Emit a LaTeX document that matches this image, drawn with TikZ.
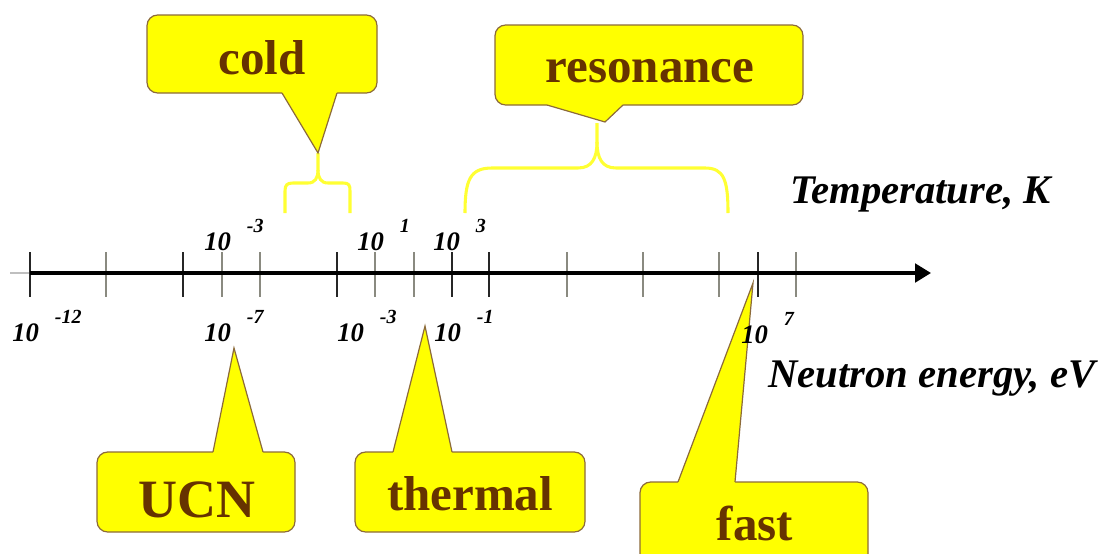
\documentclass[tikz,border=0pt]{standalone}
\usepackage{fontspec}
\setmainfont{Liberation Serif}
\usetikzlibrary{arrows.meta}
\definecolor{calloutfill}{HTML}{FFFF00}
\definecolor{calloutline}{HTML}{8C6A3A}
\definecolor{callouttext}{HTML}{663300}
\definecolor{bracecol}{HTML}{FFFF33}
\definecolor{tickgray}{HTML}{8A8A80}
\newcommand{\tenpow}[1]{10\hspace{12pt}\raisebox{13pt}{\fontsize{15}{16}\selectfont #1}}
\begin{document}
\begin{tikzpicture}[x=0.75pt,y=-0.75pt,
  cbox/.style={fill=calloutfill,draw=calloutline,line width=0.9pt,rounded corners=8pt},
  cline/.style={draw=calloutline,line width=0.9pt,line join=miter},
  ctext/.style={text=callouttext,font=\fontsize{36.75}{40}\selectfont\bfseries,inner sep=0pt,anchor=base},
  axlabel/.style={font=\fontsize{20}{22}\selectfont\bfseries\itshape,inner sep=0pt,anchor=base west},
  titlelabel/.style={font=\fontsize{30.5}{32}\selectfont\bfseries\itshape,inner sep=0pt,anchor=base west},
  bracestyle/.style={draw=bracecol,line width=2.3pt},
  tickdark/.style={draw=black!85,line width=1.3pt},
  tickgr/.style={draw=tickgray,line width=1.3pt},
  axisline/.style={draw=black,line width=2.4pt,-{Triangle[length=12pt,width=14pt]}}]
\useasboundingbox (0,0) rectangle (1113,553);
\clip (0,0) rectangle (1113,553);

% axis
\coordinate (faint) at (10,273);
\coordinate (axL) at (30,273);
\coordinate (axR) at (931,273);
\draw[black!25,line width=1pt] (faint) -- (axL);
\foreach \x in {30,183,337,452,489,758} \draw[tickdark] (\x,252) -- (\x,297);
\foreach \x in {106,222,260,375,414,567,643,719,796} \draw[tickgr] (\x,252) -- (\x,297);
\draw[axisline] (axL) -- (axR);

% braces
\draw[bracestyle] (285,213) -- (285,191) .. controls (285,185) and (287,183) .. (293,183) -- (308,183) .. controls (315,183) and (318,178) .. (318,170) -- (318,153);
\draw[bracestyle] (318,170) .. controls (318,178) and (321,183) .. (328,183) -- (343,183) .. controls (349,183) and (350,185) .. (350,191) -- (350,213);
\draw[bracestyle] (465,213) .. controls (465,180) and (470,168) .. (492,168) -- (578,168) .. controls (592,168) and (597,158) .. (597,142) -- (597,123);
\draw[bracestyle] (597,142) .. controls (597,158) and (602,168) .. (616,168) -- (705,168) .. controls (724,168) and (728,180) .. (728,213);

% cold callout
\path[cbox] (147,15) rectangle (377,93);
\fill[calloutfill] (282,90.5) -- (282,93) -- (318,153) -- (337,93) -- (337,90.5) -- cycle;
\draw[cline] (282,93) -- (318,153) -- (337,93);
\node[ctext] (cold) at (262,74) {cold};

% resonance callout
\path[cbox] (495,25) rectangle (803,105);
\fill[calloutfill] (547,102.5) -- (547,105) -- (605,122) -- (623,105) -- (623,102.5) -- cycle;
\draw[cline] (547,105) -- (605,122) -- (623,105);
\node[ctext] (res) at (650,82) {resonance};

% UCN callout
\path[cbox] (97,452) rectangle (295,532);
\fill[calloutfill] (213,454.5) -- (213,452) -- (234,348) -- (263,452) -- (263,454.5) -- cycle;
\draw[cline] (213,452) -- (234,348) -- (263,452);
\node[ctext,font=\fontsize{40.5}{44}\selectfont\bfseries] (ucn) at (197,517) {UCN};

% thermal callout
\path[cbox] (355,452) rectangle (585,532);
\fill[calloutfill] (393,454.5) -- (393,452) -- (425,326) -- (452,452) -- (452,454.5) -- cycle;
\draw[cline] (393,452) -- (425,326) -- (452,452);
\node[ctext] (thermal) at (470,510) {thermal};

% fast callout
\path[cbox] (640,482) rectangle (868,600);
\fill[calloutfill] (678,484.5) -- (678,482) -- (753,283) -- (735,482) -- (735,484.5) -- cycle;
\draw[cline] (678,482) -- (753,283) -- (735,482);
\node[ctext] (fast) at (755,540) {fast};

% top labels (temperature)
\node[axlabel] (t1) at (204,250) {\tenpow{-3}};
\node[axlabel] (t2) at (357,250) {\tenpow{1}};
\node[axlabel] (t3) at (433,250) {\tenpow{3}};
% bottom labels (energy)
\node[axlabel] (e1) at (12,341) {\tenpow{-12}};
\node[axlabel] (e2) at (204,341) {\tenpow{-7}};
\node[axlabel] (e3) at (337,341) {\tenpow{-3}};
\node[axlabel] (e4) at (434,341) {\tenpow{-1}};
\node[axlabel] (e5) at (741,343) {\tenpow{7}};

\node[titlelabel] (temp) at (790,203) {Temperature, K};
\node[titlelabel] (energy) at (768,387) {Neutron energy, eV};
\end{tikzpicture}
\end{document}
